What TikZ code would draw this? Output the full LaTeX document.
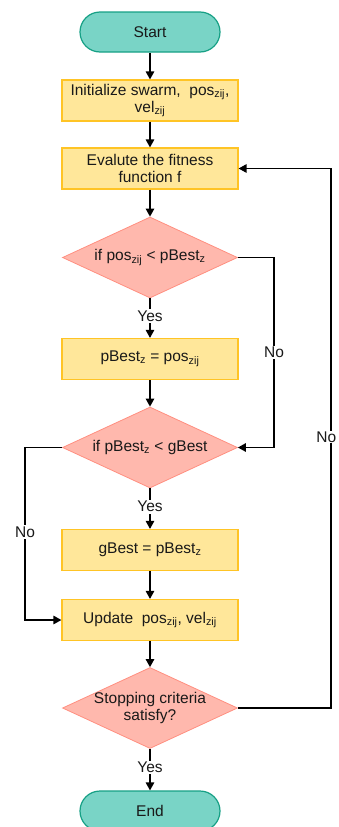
\documentclass[tikz,border=0pt]{standalone}
\usepackage{fontspec}
\setmainfont{Liberation Sans}
\usetikzlibrary{shapes.geometric,arrows.meta}
\definecolor{termfill}{HTML}{79D4C6}
\definecolor{termdraw}{HTML}{16A085}
\definecolor{boxfill}{HTML}{FFE79A}
\definecolor{boxdraw}{HTML}{FFC425}
\definecolor{decfill}{HTML}{FFB8AD}
\definecolor{decdraw}{HTML}{FF8F80}
\begin{document}
\begin{tikzpicture}[x=1pt,y=-1pt,
  every node/.style={font=\fontsize{15.5}{17}\selectfont, text=black!90},
  term/.style={draw=termdraw, fill=termfill, line width=1.2pt, rounded corners=20pt, minimum width=140pt, minimum height=40pt, inner sep=0pt},
  proc/.style={draw=boxdraw, fill=boxfill, line width=1.2pt, minimum width=176pt, minimum height=41pt, inner sep=0pt, align=center},
  dec/.style={draw=decdraw, fill=decfill, line width=0.8pt, diamond, aspect=2.16, minimum width=175pt, minimum height=81pt, inner sep=0pt, align=center},
  flow/.style={line width=1.3pt, -{Triangle[length=8pt,width=8.5pt]}},
  lbl/.style={fill=white, inner sep=1.5pt}
]
\useasboundingbox (0,0) rectangle (338,827);
\node[term] (start) at (150,32) {Start};
\node[proc] (init) at (150,100.5) {Initialize swarm,\ \ pos\textsubscript{zij},\\vel\textsubscript{zij}};
\node[proc] (eval) at (150,168.5) {Evalute the fitness\\function f};
\node[dec] (d1) at (150,257.5) {if pos\textsubscript{zij} < pBest\textsubscript{z}};
\node[proc] (pb) at (150,359) {pBest\textsubscript{z} = pos\textsubscript{zij}};
\node[dec] (d2) at (150,447.5) {if pBest\textsubscript{z} < gBest};
\node[proc] (gb) at (150,550) {gBest = pBest\textsubscript{z}};
\node[proc] (upd) at (150,620) {Update\ \ pos\textsubscript{zij}, vel\textsubscript{zij}};
\node[dec, inner sep=-6pt] (d3) at (150,708) {Stopping criteria\\satisfy?};
\node[term] (end) at (150,811) {End};

\coordinate (c1) at (274,257.5);
\coordinate (c2) at (274,447.5);
\coordinate (c3) at (25,447.5);
\coordinate (c4) at (25,620);
\coordinate (c5) at (331,708);
\coordinate (c6) at (331,168.5);

\draw[flow] (start) -- (init);
\draw[flow] (init) -- (eval);
\draw[flow] (eval) -- (d1);
\draw[flow] (d1) -- node[lbl,pos=0.45] (y1) {Yes} (pb);
\draw[flow] (pb) -- (d2);
\draw[flow] (d2) -- node[lbl,pos=0.45] (y2) {Yes} (gb);
\draw[flow] (gb) -- (upd);
\draw[flow] (upd) -- (d3);
\draw[flow] (d3) -- node[lbl,pos=0.45] (y3) {Yes} (end);
\draw[flow] (d1.east) -- (c1) -- node[lbl,pos=0.5] (n1) {No} (c2) -- (d2.east);
\draw[flow] (d2.west) -- (c3) -- node[lbl,pos=0.49] (n2) {No} (c4) -- (upd.west);
\draw[flow] (d3.east) -- (c5) -- (c6) -- (eval.east);
\node[lbl, anchor=east, inner sep=1pt] (n3) at (337.5,437) {No};
\end{tikzpicture}
\end{document}
